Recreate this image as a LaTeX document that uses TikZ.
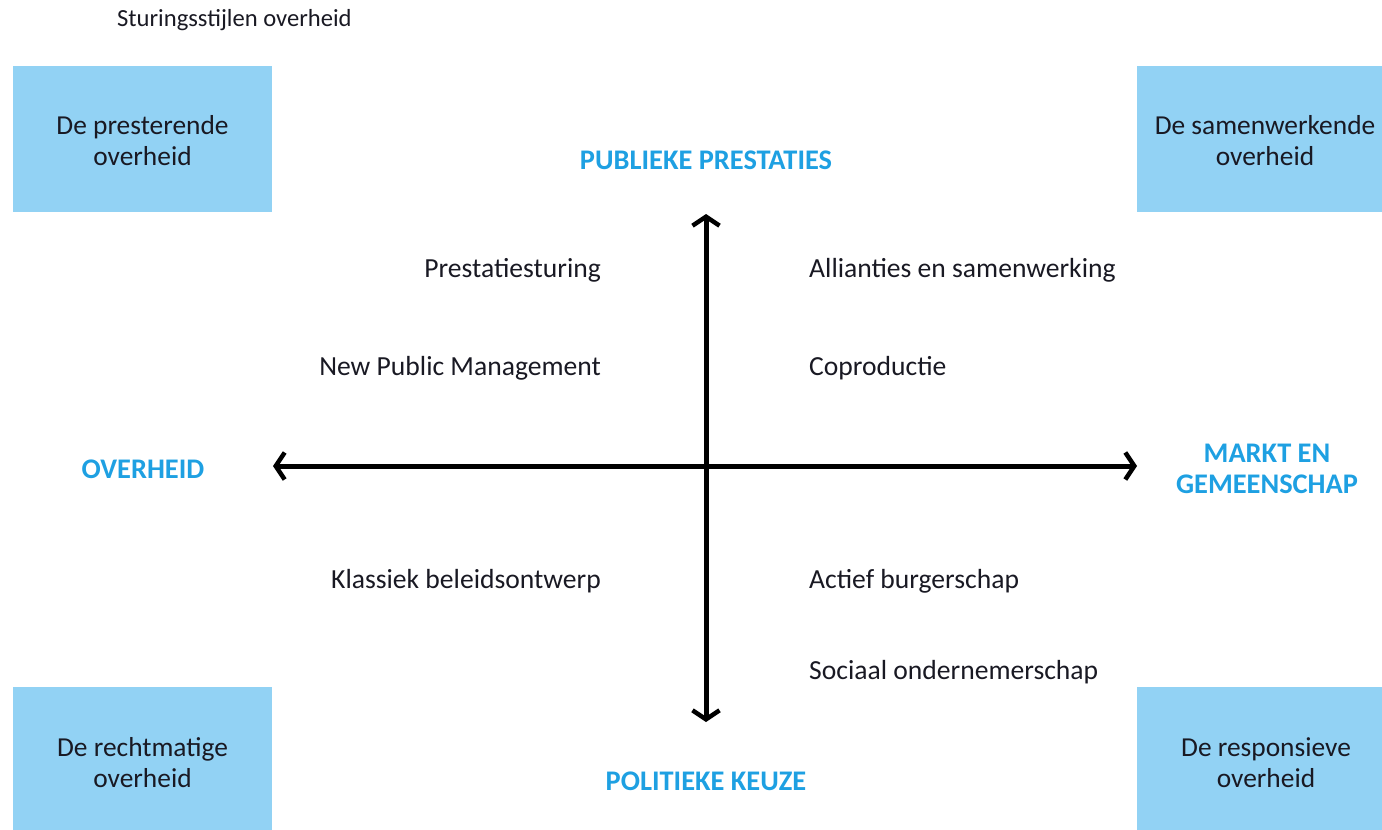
\documentclass[tikz,border=0pt]{standalone}
\usepackage{fontspec}
\setmainfont{Carlito}
\usetikzlibrary{arrows.meta}
\definecolor{boxblue}{RGB}{146,210,244}
\definecolor{labblue}{RGB}{30,160,226}
\definecolor{txt}{RGB}{25,25,35}
\begin{document}
\begin{tikzpicture}[x=1pt,y=-1pt,
  quad/.style={fill=boxblue,draw=none,minimum width=259pt,minimum height=146pt,inner sep=0pt},
  quadtext/.style={align=center,font=\fontsize{27.4}{31}\selectfont,text=txt,inner sep=0pt},
  axlab/.style={font=\fontsize{28.4}{31}\selectfont\bfseries,text=labblue,align=center},
  item/.style={font=\fontsize{27.6}{30}\selectfont,text=txt,inner sep=0pt},
  axis/.style={line width=5pt,{Straight Barb[length=9pt,width=27pt,line width=4.5pt]}-{Straight Barb[length=9pt,width=27pt,line width=4.5pt]}}]
\useasboundingbox (0,0) rectangle (1382,830);
\node[anchor=west,font=\fontsize{24.6}{28}\selectfont,text=txt,inner sep=0pt] (title) at (117,20) {Sturingsstijlen overheid};
\node[quad] (tl) at (142.5,139) {};
\node[quad,minimum width=245pt] (tr) at (1259.5,139) {};
\node[quad,minimum height=143pt] (bl) at (142.5,758.5) {};
\node[quad,minimum width=245pt,minimum height=143pt] (br) at (1259.5,758.5) {};
\node[quadtext] (tlt) at (142.5,141) {De presterende\\overheid};
\node[quadtext] (trt) at (1265,141) {De samenwerkende\\overheid};
\node[quadtext] (blt) at (142.5,763) {De rechtmatige\\overheid};
\node[quadtext] (brt) at (1266,763) {De responsieve\\overheid};
\node[axlab] (top) at (706,160) {PUBLIEKE PRESTATIES};
\node[axlab] (bot) at (706,781) {POLITIEKE KEUZE};
\node[axlab] (left) at (143,469) {OVERHEID};
\node[axlab] (right) at (1267,469) {MARKT EN\\GEMEENSCHAP};
\coordinate (vt) at (706,214);
\coordinate (vb) at (706,722);
\coordinate (hl) at (273,466);
\coordinate (hr) at (1137,466);
\draw[axis] (vb) -- (vt);
\draw[axis] (hl) -- (hr);
\node[item,anchor=east] (a1) at (601,270) {Prestatiesturing};
\node[item,anchor=east] (a2) at (601,368) {New Public Management};
\node[item,anchor=east] (a3) at (601,581) {Klassiek beleidsontwerp};
\node[item,anchor=west] (b1) at (809,270) {Allianties en samenwerking};
\node[item,anchor=west] (b2) at (809,368) {Coproductie};
\node[item,anchor=west] (b3) at (809,581) {Actief burgerschap};
\node[item,anchor=west] (b4) at (809,672) {Sociaal ondernemerschap};
\end{tikzpicture}
\end{document}
